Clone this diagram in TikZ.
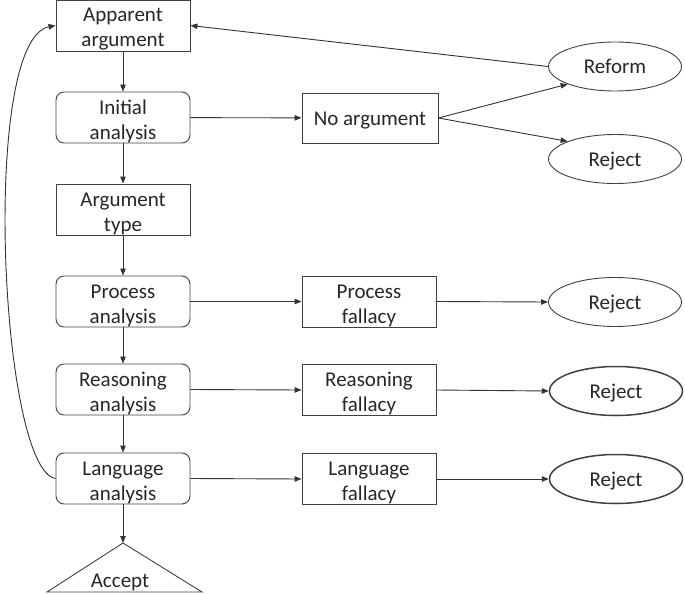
\documentclass[tikz,border=0pt]{standalone}
\usepackage{fontspec}
\setmainfont{Carlito}
\usetikzlibrary{arrows.meta,shapes.geometric}
\begin{document}
\begin{tikzpicture}[x=1pt,y=-1pt,
  every node/.style={font=\fontsize{21}{25}\selectfont, align=center, text=black!85, inner sep=0pt},
  two/.style={text height=43pt, text depth=0pt},
  one/.style={text height=14pt, text depth=0pt},
  boxn/.style={draw=black!75, line width=0.9pt, minimum width=134pt, minimum height=51pt},
  rbox/.style={boxn, rounded corners=8pt},
  ell/.style={draw=black!75, ellipse, line width=0.9pt, minimum width=133pt, minimum height=49pt, one},
  thick ell/.style={ell, line width=1.5pt},
  arr/.style={draw=black!80, line width=0.9pt, -{Triangle[length=7pt,width=5.5pt]}}
]
\useasboundingbox (0,0) rectangle (685,594);
\node[boxn, two] (app) at (123,25.5) {Apparent\\argument};
\node[rbox, two] (init) at (123,117.5) {Initial\\analysis};
\node[boxn, two] (type) at (123,209.5) {Argument\\type};
\node[rbox, two] (proc) at (123,301.5) {Process\\analysis};
\node[rbox, two] (reas) at (123,389.5) {Reasoning\\analysis};
\node[rbox, two] (lang) at (123,478.5) {Language\\analysis};
\node[boxn, one, minimum width=136pt, minimum height=50pt] (noarg) at (370,118) {No argument};
\node[boxn, two] (procf) at (369,301.5) {Process\\fallacy};
\node[boxn, two] (reasf) at (369,390) {Reasoning\\fallacy};
\node[boxn, two] (langf) at (369,479) {Language\\fallacy};
\node[ell] (reform) at (615,66.5) {Reform};
\node[ell] (rej1) at (615,159) {Reject};
\node[ell] (rej2) at (615,302) {Reject};
\node[thick ell] (rej3) at (616,391) {Reject};
\node[thick ell] (rej4) at (616,479) {Reject};
\coordinate (acc) at (123,543);
\coordinate (accl) at (47,592);
\coordinate (accr) at (202,592);
\draw[draw=black!75, line width=0.9pt] (accl) -- (acc) -- (accr) -- cycle;
\node[anchor=base] (accept) at (120,587) {Accept};
% vertical flow
\draw[arr] (app) -- (init);
\draw[arr] (init) -- (type);
\draw[arr] (type) -- (proc);
\draw[arr] (proc) -- (reas);
\draw[arr] (reas) -- (lang);
\draw[arr] (lang) -- (acc);
% horizontal
\draw[arr] (init) -- (noarg);
\draw[arr] (proc) -- (procf);
\draw[arr] (reas.east) -- (reasf.west);
\draw[arr] (lang.east) -- (langf.west);
\draw[arr] (noarg.east) -- (reform.south west);
\draw[arr] (noarg.east) -- (rej1.north west);
\draw[arr] (procf.east) -- (rej2.west);
\draw[arr] (reasf.east) -- (rej3.west);
\draw[arr] (langf.east) -- (rej4.west);
\draw[arr] (reform.west) -- (app.east);
% loop back
\draw[arr] (lang.west) .. controls (0,470) and (-20,40) .. (app.west);
\end{tikzpicture}
\end{document}
